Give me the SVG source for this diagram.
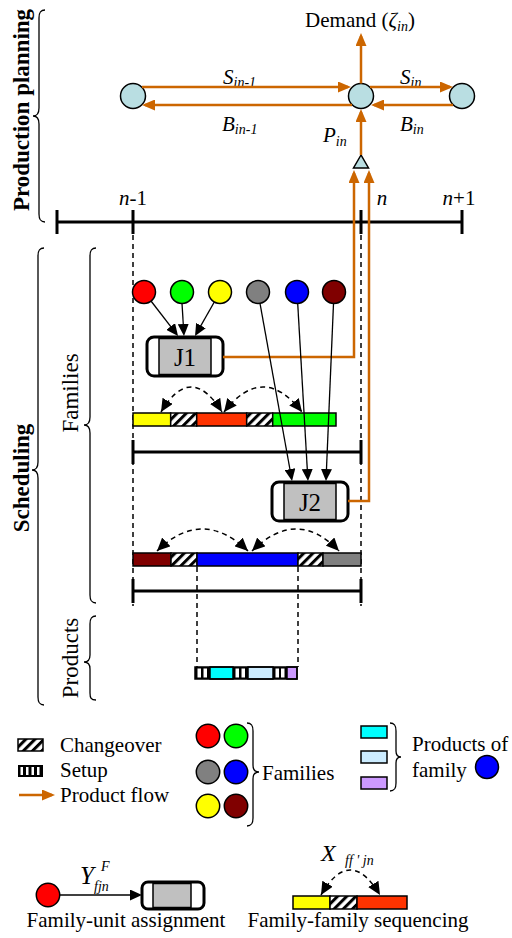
<svg xmlns="http://www.w3.org/2000/svg" width="512" height="938" viewBox="0 0 512 938">
<style>
text{font-family:"Liberation Serif","Times New Roman",serif;fill:#000}
.t{font-size:21px}
.it{font-style:italic}
.sub{font-size:14px;font-style:italic}
.b{font-weight:bold;font-size:23px}
.v{font-size:23px}
.of{fill:none;stroke:#CC6600;stroke-width:2.5}
.ln{fill:none;stroke:#000;stroke-width:1.3}
.tl{fill:none;stroke:#000;stroke-width:3}
.dash{fill:none;stroke:#000;stroke-width:1.5;stroke-dasharray:5 4}
.br{fill:none;stroke:#000;stroke-width:1.3}
.pn{fill:#B9DEE2;stroke:#000;stroke-width:1.5}
.fc{stroke:#000;stroke-width:1.5}
.seg{stroke:#000;stroke-width:1.5}
.box{fill:none;stroke:#000;stroke-width:3}
.inner{fill:#C0C0C0;stroke:#000;stroke-width:1.5}
</style>
<defs>
<marker id="ab" markerUnits="userSpaceOnUse" markerWidth="12" markerHeight="11" refX="9" refY="5.5" orient="auto"><path d="M0,0 L12,5.5 L0,11 z" fill="#000"/></marker>
<marker id="ad" markerUnits="userSpaceOnUse" markerWidth="13" markerHeight="12" refX="13" refY="6" orient="auto-start-reverse"><path d="M0,0 L13,6 L0,12 z" fill="#000"/></marker>
<marker id="ao" markerUnits="userSpaceOnUse" markerWidth="13" markerHeight="11" refX="10" refY="5.5" orient="auto"><path d="M0,0 L13,5.5 L0,11 z" fill="#CC6600"/></marker>
<pattern id="hatch" patternUnits="userSpaceOnUse" width="6.5" height="6.5" patternTransform="rotate(45)"><rect width="6.5" height="6.5" fill="#fff"/><rect width="3" height="6.5" fill="#000"/></pattern>
</defs>

<!-- side labels and braces -->
<g id="side-labels">
<text class="b" transform="translate(29,110) rotate(-90)" text-anchor="middle">Production planning</text>
<path class="br" d="M45,10 C40,10 39,13 39,18 L39,108 C39,113 37,116 33,116 C37,116 39,119 39,124 L39,214 C39,219 40,222 45,222"/>
<text class="b" transform="translate(29,478) rotate(-90)" text-anchor="middle">Scheduling</text>
<path class="br" d="M44,248 C39,248 38,251 38,256 L38,462 C38,467 36,470 32,470 C36,470 38,473 38,478 L38,697 C38,702 39,705 44,705"/>
<text class="v" transform="translate(78,393) rotate(-90)" text-anchor="middle">Families</text>
<path class="br" d="M96,248 C91,248 90,251 90,256 L90,417 C90,422 88,425 84,425 C88,425 90,428 90,433 L90,595 C90,600 91,603 96,603"/>
<text class="v" transform="translate(78,658) rotate(-90)" text-anchor="middle">Products</text>
<path class="br" d="M96,616 C91,616 90,619 90,624 L90,655 C90,659 88,662 84,662 C88,662 90,665 90,669 L90,693 C90,698 91,700 96,700"/>
</g>

<!-- timelines -->
<g id="timelines">
<line class="tl" x1="57" y1="222" x2="462" y2="222"/>
<line class="tl" x1="57" y1="210" x2="57" y2="234"/>
<line class="tl" x1="133" y1="210" x2="133" y2="234"/>
<line class="tl" x1="361" y1="210" x2="361" y2="234"/>
<line class="tl" x1="462" y1="210" x2="462" y2="234"/>
<text class="t" x="133" y="205" text-anchor="middle"><tspan class="it">n</tspan>-1</text>
<text class="t it" x="382" y="205" text-anchor="middle">n</text>
<text class="t" x="459" y="205" text-anchor="middle"><tspan class="it">n</tspan>+1</text>
<line class="tl" x1="133" y1="452" x2="361" y2="452"/>
<line class="tl" x1="133" y1="440" x2="133" y2="464"/>
<line class="tl" x1="361" y1="440" x2="361" y2="464"/>
<line class="tl" x1="133" y1="591" x2="361" y2="591"/>
<line class="tl" x1="133" y1="579" x2="133" y2="603"/>
<line class="tl" x1="361" y1="579" x2="361" y2="603"/>
<line class="dash" x1="133" y1="235" x2="133" y2="606"/>
<line class="dash" x1="361" y1="235" x2="361" y2="606"/>
<line class="dash" x1="197" y1="567" x2="197" y2="667"/>
<line class="dash" x1="298" y1="567" x2="298" y2="667"/>
</g>

<!-- planning nodes -->
<g id="node-prev"><circle class="pn" cx="133" cy="96" r="12.5"/></g>
<g id="node-cur"><circle class="pn" cx="361" cy="96" r="12.5"/></g>
<g id="node-next"><circle class="pn" cx="462" cy="96" r="12.5"/></g>
<g id="node-prod"><polygon class="pn" points="361,155 353.5,168 368.5,168"/></g>
<g id="planning-labels">
<text class="t" x="360" y="27" text-anchor="middle">Demand (<tspan class="it">ζ</tspan><tspan class="sub" dy="4">in</tspan><tspan dy="-4">)</tspan></text>
<text class="t" x="223" y="84"><tspan class="it">S</tspan><tspan class="sub" dy="3">in-1</tspan></text>
<text class="t" x="400" y="84"><tspan class="it">S</tspan><tspan class="sub" dy="3">in</tspan></text>
<text class="t" x="222" y="131"><tspan class="it">B</tspan><tspan class="sub" dy="3">in-1</tspan></text>
<text class="t" x="400" y="131"><tspan class="it">B</tspan><tspan class="sub" dy="3">in</tspan></text>
<text class="t" x="323" y="142"><tspan class="it">P</tspan><tspan class="sub" dy="4">in</tspan></text>
</g>

<!-- family circles -->
<g id="fam-red"><circle class="fc" cx="144" cy="292" r="11.5" fill="#FF0000"/></g>
<g id="fam-green"><circle class="fc" cx="182" cy="292" r="11.5" fill="#00FF00"/></g>
<g id="fam-yellow"><circle class="fc" cx="220" cy="292" r="11.5" fill="#FFFF00"/></g>
<g id="fam-gray"><circle class="fc" cx="258" cy="292" r="11.5" fill="#808080"/></g>
<g id="fam-blue"><circle class="fc" cx="297" cy="292" r="11.5" fill="#0000FF"/></g>
<g id="fam-maroon"><circle class="fc" cx="334" cy="292" r="11.5" fill="#800000"/></g>

<!-- units -->
<g id="J1">
<rect x="147" y="337" width="76" height="39" rx="7" fill="#fff"/>
<rect class="inner" x="159" y="338.5" width="52" height="36"/>
<rect class="box" x="147" y="337" width="76" height="39" rx="7"/>
<text x="185" y="366" text-anchor="middle" font-size="25">J1</text>
</g>
<g id="J2">
<rect x="272" y="482" width="76" height="39" rx="7" fill="#fff"/>
<rect class="inner" x="284" y="483.5" width="52" height="36"/>
<rect class="box" x="272" y="482" width="76" height="39" rx="7"/>
<text x="310" y="511" text-anchor="middle" font-size="25">J2</text>
</g>

<!-- family sequence bar 1 -->
<g id="bar1">
<rect class="seg" x="133" y="413" width="37.7" height="13" fill="#FFFF00"/>
<rect class="seg" x="170.7" y="413" width="26" height="13" fill="url(#hatch)"/>
<rect class="seg" x="196.7" y="413" width="50" height="13" fill="#FF3300"/>
<rect class="seg" x="246.7" y="413" width="26" height="13" fill="url(#hatch)"/>
<rect class="seg" x="272.7" y="413" width="63.3" height="13" fill="#00FF00"/>
</g>
<!-- family sequence bar 2 -->
<g id="bar2">
<rect class="seg" x="133" y="553" width="38" height="13" fill="#800000"/>
<rect class="seg" x="171" y="553" width="26" height="13" fill="url(#hatch)"/>
<rect class="seg" x="197" y="553" width="101" height="13" fill="#0000FF"/>
<rect class="seg" x="298" y="553" width="25" height="13" fill="url(#hatch)"/>
<rect class="seg" x="323" y="553" width="38" height="13" fill="#808080"/>
</g>
<!-- product bar -->
<g id="prodbar">
<rect x="195" y="667" width="15" height="12" fill="#000"/>
<rect x="197.5" y="668.5" width="3.5" height="9" fill="#fff"/>
<rect x="203.5" y="668.5" width="3.5" height="9" fill="#fff"/>
<rect x="233" y="667" width="15" height="12" fill="#000"/>
<rect x="235.5" y="668.5" width="3.5" height="9" fill="#fff"/>
<rect x="241.5" y="668.5" width="3.5" height="9" fill="#fff"/>
<rect x="273" y="667" width="14" height="12" fill="#000"/>
<rect x="275.5" y="668.5" width="3.5" height="9" fill="#fff"/>
<rect x="281" y="668.5" width="3.5" height="9" fill="#fff"/>
<rect class="seg" x="210" y="667" width="23" height="12" fill="#00FFFF"/>
<rect class="seg" x="248" y="667" width="25" height="12" fill="#CCECFF"/>
<rect class="seg" x="287" y="667" width="10" height="12" fill="#CC99FF"/>
<rect class="seg" x="195" y="667" width="102" height="12" fill="none"/>
</g>

<!-- connectors -->
<g id="connectors">
<line class="of" x1="361" y1="83.5" x2="361" y2="36" marker-end="url(#ao)"/>
<line class="of" x1="142" y1="87" x2="348" y2="87" marker-end="url(#ao)"/>
<line class="of" x1="370" y1="87" x2="450" y2="87" marker-end="url(#ao)"/>
<line class="of" x1="352" y1="105" x2="145" y2="105" marker-end="url(#ao)"/>
<line class="of" x1="453" y1="105" x2="374" y2="105" marker-end="url(#ao)"/>
<line class="of" x1="361" y1="155" x2="361" y2="112" marker-end="url(#ao)"/>
<path class="of" d="M223,357 H354 V173" marker-end="url(#ao)"/>
<path class="of" d="M348,501 H369 V173" marker-end="url(#ao)"/>
<line class="ln" x1="151" y1="301" x2="176.2" y2="333.6" marker-end="url(#ab)"/>
<line class="ln" x1="182" y1="303.5" x2="183.8" y2="333" marker-end="url(#ab)"/>
<line class="ln" x1="214.3" y1="302" x2="196.5" y2="333.4" marker-end="url(#ab)"/>
<line class="ln" x1="260" y1="303.3" x2="291.5" y2="478" marker-end="url(#ab)"/>
<line class="ln" x1="297.7" y1="303.5" x2="307.8" y2="478" marker-end="url(#ab)"/>
<line class="ln" x1="333.5" y1="303.5" x2="326.1" y2="478" marker-end="url(#ab)"/>
<path class="dash" d="M161,412 Q191,362 222,412" marker-start="url(#ad)" marker-end="url(#ad)"/>
<path class="dash" d="M224,412 Q263,362 302,412" marker-start="url(#ad)" marker-end="url(#ad)"/>
<path class="dash" d="M157,551 Q202,507 248,551" marker-start="url(#ad)" marker-end="url(#ad)"/>
<path class="dash" d="M252,551 Q297,507 339,551" marker-start="url(#ad)" marker-end="url(#ad)"/>
</g>

<!-- legend -->
<g id="legend-symbols">
<rect x="18" y="739" width="25" height="12" fill="url(#hatch)" stroke="#000" stroke-width="1.5"/>
<text class="t" x="60" y="752">Changeover</text>
<rect x="18" y="765" width="25" height="12" fill="#000"/>
<rect x="20.5" y="767" width="2.5" height="8" fill="#fff"/>
<rect x="26" y="767" width="2.5" height="8" fill="#fff"/>
<rect x="31.5" y="767" width="2.5" height="8" fill="#fff"/>
<rect x="37" y="767" width="2.5" height="8" fill="#fff"/>
<text class="t" x="60" y="777">Setup</text>
<line class="of" x1="19" y1="795" x2="52" y2="795" marker-end="url(#ao)"/>
<text class="t" x="60" y="802">Product flow</text>
</g>
<g id="legend-families">
<circle class="fc" cx="208" cy="736" r="11.7" fill="#FF0000"/>
<circle class="fc" cx="236" cy="736" r="11.7" fill="#00FF00"/>
<circle class="fc" cx="208" cy="772" r="11.7" fill="#808080"/>
<circle class="fc" cx="236" cy="772" r="11.7" fill="#0000FF"/>
<circle class="fc" cx="208" cy="806" r="11.7" fill="#FFFF00"/>
<circle class="fc" cx="236" cy="806" r="11.7" fill="#800000"/>
<path class="br" d="M247,723 C252,723 253,726 253,731 L253,765 C253,769 255,772 259,772 C255,772 253,775 253,779 L253,818 C253,823 252,826 247,826"/>
<text class="t" x="262" y="780">Families</text>
</g>
<g id="legend-products">
<rect class="seg" x="361" y="726" width="26" height="12" fill="#00FFFF"/>
<rect class="seg" x="361" y="751" width="26" height="12" fill="#CCECFF"/>
<rect class="seg" x="361" y="777" width="26" height="12" fill="#CC99FF"/>
<path class="br" d="M390,723 C395,723 396,726 396,731 L396,751 C396,755 398,757 401,757 C398,757 396,759 396,763 L396,783 C396,788 395,791 390,791"/>
<text class="t" x="412" y="751">Products of</text>
<text class="t" x="412" y="777">family</text>
<circle class="fc" cx="487" cy="767" r="11.5" fill="#0000FF"/>
</g>

<!-- bottom legend -->
<g id="legend-assign">
<circle class="fc" cx="48" cy="895" r="11.7" fill="#FF0000"/>
<line class="ln" x1="60" y1="895" x2="139" y2="895" marker-end="url(#ab)"/>
<rect x="142" y="882" width="62" height="27" rx="6" fill="#fff"/>
<rect class="inner" x="153" y="883.5" width="38" height="24"/>
<rect class="box" x="142" y="882" width="62" height="27" rx="6"/>
<text x="80" y="884" font-size="25"><tspan class="it">Y</tspan></text>
<text class="sub" x="94" y="891">fjn</text>
<text class="sub" x="101" y="871">F</text>
<text class="t" x="126" y="927" text-anchor="middle">Family-unit assignment</text>
</g>
<g id="legend-seq">
<rect class="seg" x="293" y="896" width="37" height="13" fill="#FFFF00"/>
<rect class="seg" x="330" y="896" width="27" height="13" fill="url(#hatch)"/>
<rect class="seg" x="357" y="896" width="50" height="13" fill="#FF3300"/>
<path class="dash" d="M321,895 Q350,845 380,895" marker-start="url(#ad)" marker-end="url(#ad)"/>
<text x="321" y="861" font-size="24"><tspan class="it">X</tspan></text>
<text class="sub" x="345" y="865">ff ' jn</text>
<text class="t" x="358" y="927" text-anchor="middle">Family-family sequencing</text>
</g>
</svg>
